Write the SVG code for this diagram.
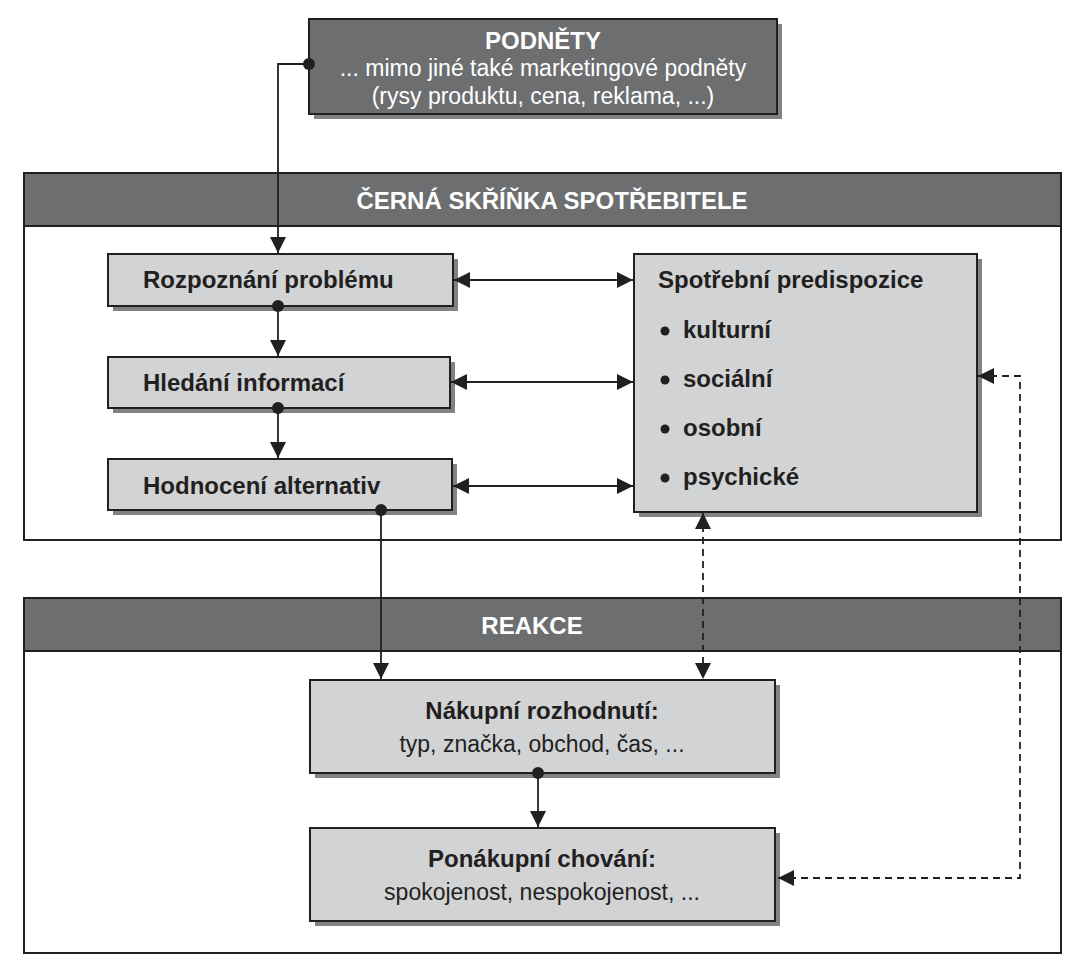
<svg xmlns="http://www.w3.org/2000/svg" width="1085" height="969" viewBox="0 0 1085 969">
<defs>
<marker id="ah" viewBox="0 0 10 10" refX="10" refY="5" markerWidth="16" markerHeight="16" markerUnits="userSpaceOnUse" orient="auto-start-reverse"><path d="M0,0L10,5L0,10z" fill="#231f20"/></marker>
<marker id="dot" viewBox="0 0 10 10" refX="5" refY="5" markerWidth="12" markerHeight="12" markerUnits="userSpaceOnUse"><circle cx="5" cy="5" r="5" fill="#231f20"/></marker>
</defs>
<style>
text{font-family:"Liberation Sans",Arial,sans-serif;fill:#231f20}
.b{font-weight:bold;font-size:24px}
.h{font-weight:bold;font-size:24px}
.n{font-size:23px}
.w{fill:#fff}
.box{fill:#d1d3d4;stroke:#231f20;stroke-width:2}
.dark{fill:#6d6e70;stroke:#231f20;stroke-width:2}
.sh{fill:#808285}
.panel{fill:#fff;stroke:#231f20;stroke-width:2}
.c{fill:none;stroke:#231f20;stroke-width:1.8}
.d{stroke-dasharray:7,5}
</style>
<rect width="1085" height="969" fill="#fff"/>
<g id="panel-cerna">
<rect class="panel" x="24" y="173" width="1037" height="367"/>
<rect class="dark" x="24" y="173" width="1037" height="53"/>
<text class="h w" x="552" y="209" text-anchor="middle">ČERNÁ SKŘÍŇKA SPOTŘEBITELE</text>
</g>
<g id="panel-reakce">
<rect class="panel" x="24" y="598" width="1037" height="355"/>
<rect class="dark" x="24" y="598" width="1037" height="53"/>
<text class="h w" x="532" y="634" text-anchor="middle">REAKCE</text>
</g>
<g id="podnety">
<rect class="sh" x="314" y="24" width="468" height="95"/>
<rect class="dark" x="309" y="19" width="468" height="95"/>
<text class="h w" x="543" y="49" text-anchor="middle">PODNĚTY</text>
<text class="n w" x="543" y="76" text-anchor="middle">... mimo jiné také marketingové podněty</text>
<text class="n w" x="543" y="104" text-anchor="middle">(rysy produktu, cena, reklama, ...)</text>
</g>
<g id="rozpoznani">
<rect class="sh" x="113" y="259" width="345" height="52"/>
<rect class="box" x="108" y="254" width="345" height="52"/>
<text class="b" x="143" y="288">Rozpoznání problému</text>
</g>
<g id="hledani">
<rect class="sh" x="113" y="362" width="342" height="51"/>
<rect class="box" x="108" y="357" width="342" height="51"/>
<text class="b" x="143" y="391">Hledání informací</text>
</g>
<g id="hodnoceni">
<rect class="sh" x="113" y="464" width="344" height="51"/>
<rect class="box" x="108" y="459" width="344" height="51"/>
<text class="b" x="143" y="494">Hodnocení alternativ</text>
</g>
<g id="predispozice">
<rect class="sh" x="639" y="259" width="343" height="258"/>
<rect class="box" x="634" y="254" width="343" height="258"/>
<text class="b" x="658" y="288">Spotřební predispozice</text>
<circle cx="665" cy="331" r="4.5" fill="#231f20"/><text class="b" x="683" y="338">kulturní</text>
<circle cx="665" cy="380" r="4.5" fill="#231f20"/><text class="b" x="683" y="387">sociální</text>
<circle cx="665" cy="429" r="4.5" fill="#231f20"/><text class="b" x="683" y="436">osobní</text>
<circle cx="665" cy="478" r="4.5" fill="#231f20"/><text class="b" x="683" y="485">psychické</text>
</g>
<g id="nakupni">
<rect class="sh" x="315" y="685" width="465" height="93"/>
<rect class="box" x="310" y="680" width="465" height="93"/>
<text class="b" x="542" y="719" text-anchor="middle">Nákupní rozhodnutí:</text>
<text class="n" x="542" y="752" text-anchor="middle">typ, značka, obchod, čas, ...</text>
</g>
<g id="ponakupni">
<rect class="sh" x="315" y="833" width="465" height="93"/>
<rect class="box" x="310" y="828" width="465" height="93"/>
<text class="b" x="542" y="867" text-anchor="middle">Ponákupní chování:</text>
<text class="n" x="542" y="900" text-anchor="middle">spokojenost, nespokojenost, ...</text>
</g>
<g id="connectors">
<path class="c" d="M309,64H278V253" marker-start="url(#dot)" marker-end="url(#ah)"/>
<path class="c" d="M278,306V356" marker-start="url(#dot)" marker-end="url(#ah)"/>
<path class="c" d="M278,408V458" marker-start="url(#dot)" marker-end="url(#ah)"/>
<path class="c" d="M381,510V679" marker-start="url(#dot)" marker-end="url(#ah)"/>
<path class="c" d="M538,773V827" marker-start="url(#dot)" marker-end="url(#ah)"/>
<path class="c" d="M454,280H633" marker-start="url(#ah)" marker-end="url(#ah)"/>
<path class="c" d="M451,382H633" marker-start="url(#ah)" marker-end="url(#ah)"/>
<path class="c" d="M453,486H633" marker-start="url(#ah)" marker-end="url(#ah)"/>
<path class="c d" d="M703,513V679" marker-start="url(#ah)" marker-end="url(#ah)"/>
<path class="c d" d="M978,376H1020V878H778" marker-start="url(#ah)" marker-end="url(#ah)"/>
</g>
</svg>
